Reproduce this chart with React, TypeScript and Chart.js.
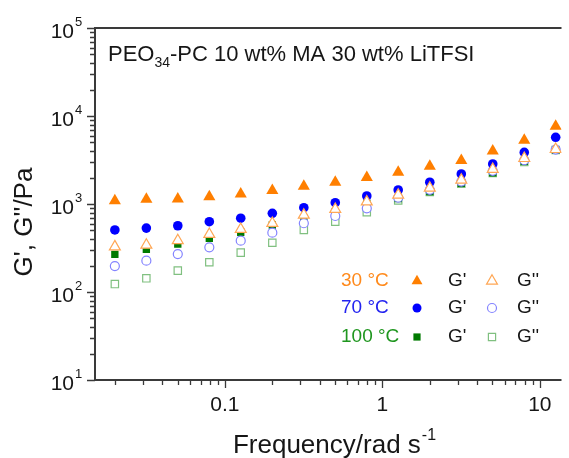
import React, { useEffect, useRef } from "react";
import { Chart, registerables } from "chart.js";

Chart.register(...registerables);

// ---------- data ----------
const frequency = [0.02, 0.0317, 0.0502, 0.0796, 0.126, 0.2, 0.317, 0.502, 0.796, 1.26, 2.0, 3.17, 5.02, 7.96, 12.6];

const g1_30C = [1090, 1130, 1140, 1210, 1300, 1420, 1590, 1770, 2000, 2290, 2680, 3130, 4000, 5300, 7650];
const g2_30C = [327, 342, 385, 453, 516, 604, 750, 871, 1060, 1265, 1520, 1875, 2480, 3300, 4180];
const g1_70C = [507, 532, 566, 629, 690, 784, 908, 1035, 1233, 1442, 1766, 2192, 2848, 3860, 5730];
const g2_70C = [197, 227, 270, 322, 383, 472, 604, 731, 894, 1180, 1450, 1800, 2380, 3150, 4150];
const g1_100C = [268, 306, 351, 408, 477, 577, 688, 817, 1018, 1150, 1380, 1720, 2260, 3050, 4080];
const g2_100C = [123, 143, 175, 218, 280, 363, 507, 629, 805, 1100, 1370, 1700, 2250, 3000, 4100];

const yTickExponents = [1, 2, 3, 4, 5];
const xTickValues = [0.1, 1, 10];
const xTickLabels = ["0.1", "1", "10"];

const legendRows = [
  { label: "30 \u00B0C", color: "#ff8a1c", marker: "triangle" },
  { label: "70 \u00B0C", color: "#2323f0", marker: "circle" },
  { label: "100 \u00B0C", color: "#1f961f", marker: "square" },
];

const titleMain = "PEO";
const titleSub = "34";
const titleRest = "-PC 10 wt% MA 30 wt% LiTFSI";
const xTitle = "Frequency/rad s";
const xTitleSup = "-1";
const yTitle = "G', G''/Pa";

// ---------- styles ----------
const ORANGE = "#ff7f00";
const ORANGE_OPEN = "#ffa755";
const BLUE = "#0000ff";
const BLUE_OPEN = "#8484ff";
const GREEN = "#007a00";
const GREEN_OPEN = "#80c080";
const AXIS = "#3a3a3a";
const TEXT = "#161616";
const FONT = "'Liberation Sans', Arial, sans-serif";

function pts(ys: number[]) {
  return frequency.map((x, i) => ({ x, y: ys[i] }));
}

function drawMarker(ctx: CanvasRenderingContext2D, kind: string, x: number, y: number, filled: boolean, color: string) {
  ctx.save();
  ctx.beginPath();
  if (kind === "triangle") {
    const r = 6.3;
    for (let k = 0; k < 3; k++) {
      const a = (k * 2 * Math.PI) / 3;
      const px = x + Math.sin(a) * r;
      const py = y - Math.cos(a) * r;
      if (k === 0) ctx.moveTo(px, py);
      else ctx.lineTo(px, py);
    }
    ctx.closePath();
  } else if (kind === "circle") {
    ctx.arc(x, y, 4.5, 0, Math.PI * 2);
  } else {
    ctx.rect(x - 3.6, y - 3.6, 7.2, 7.2);
  }
  if (filled) {
    ctx.fillStyle = color;
    ctx.fill();
  } else {
    ctx.fillStyle = "#ffffff";
    ctx.fill();
    ctx.lineWidth = 1.2;
    ctx.strokeStyle = color;
    ctx.stroke();
  }
  ctx.restore();
}

const decorPlugin = {
  id: "decor",
  afterDraw(chart: any) {
    const ctx: CanvasRenderingContext2D = chart.ctx;
    const { left, right, top, bottom } = chart.chartArea;
    const xs = chart.scales.x;
    const ys = chart.scales.y;
    ctx.save();

    // axis lines
    ctx.strokeStyle = AXIS;
    ctx.lineWidth = 2;
    ctx.beginPath();
    ctx.moveTo(left, top);
    ctx.lineTo(left, bottom);
    ctx.moveTo(left - 1, bottom);
    ctx.lineTo(right, bottom);
    ctx.moveTo(left - 1, top);
    ctx.lineTo(right, top);
    ctx.stroke();

    // y ticks
    ctx.lineWidth = 1.3;
    ctx.beginPath();
    for (let d = 1; d <= 5; d++) {
      for (let m = 1; m <= 9; m++) {
        const v = m * Math.pow(10, d);
        if (v > ys.max * 1.0001) continue;
        const py = Math.round(ys.getPixelForValue(v)) + 0.5;
        const len = m === 1 ? 8 : 5;
        ctx.moveTo(left, py);
        ctx.lineTo(left - len, py);
      }
    }
    // x ticks
    for (let d = -2; d <= 1; d++) {
      for (let m = 1; m <= 9; m++) {
        const v = m * Math.pow(10, d);
        if (v < xs.min || v > xs.max) continue;
        const px = Math.round(xs.getPixelForValue(v)) + 0.5;
        const len = m === 1 ? 8 : 5;
        ctx.moveTo(px, bottom);
        ctx.lineTo(px, bottom + len);
      }
    }
    ctx.stroke();

    ctx.fillStyle = TEXT;
    // y tick labels
    yTickExponents.forEach((e) => {
      const py = ys.getPixelForValue(Math.pow(10, e));
      ctx.font = `21px ${FONT}`;
      ctx.textAlign = "right";
      ctx.textBaseline = "alphabetic";
      ctx.fillText("10", 74, py + 10);
      ctx.font = `13px ${FONT}`;
      ctx.textAlign = "left";
      ctx.fillText(String(e), 75, py - 2);
    });

    // x tick labels
    ctx.font = `21px ${FONT}`;
    ctx.textAlign = "center";
    ctx.textBaseline = "alphabetic";
    xTickValues.forEach((v, i) => {
      const px = xs.getPixelForValue(v);
      ctx.fillText(xTickLabels[i], px, 411);
    });

    // x title
    ctx.font = `26px ${FONT}`;
    ctx.textAlign = "left";
    const xtW = ctx.measureText(xTitle).width;
    ctx.font = `16px ${FONT}`;
    const supW = ctx.measureText(xTitleSup).width;
    const xtStart = 334 - (xtW + supW) / 2;
    ctx.font = `26px ${FONT}`;
    ctx.fillText(xTitle, xtStart, 453);
    ctx.font = `16px ${FONT}`;
    ctx.fillText(xTitleSup, xtStart + xtW + 1, 440);

    // y title
    ctx.save();
    ctx.translate(32, 222);
    ctx.rotate(-Math.PI / 2);
    ctx.font = `26px ${FONT}`;
    ctx.textAlign = "center";
    ctx.textBaseline = "alphabetic";
    ctx.fillText(yTitle, 0, 0);
    ctx.restore();

    // chart title
    ctx.textAlign = "left";
    ctx.font = `22px ${FONT}`;
    let tx = 108;
    ctx.fillText(titleMain, tx, 61);
    tx += ctx.measureText(titleMain).width;
    ctx.font = `14px ${FONT}`;
    ctx.fillText(titleSub, tx, 67);
    tx += ctx.measureText(titleSub).width;
    ctx.font = `22px ${FONT}`;
    ctx.fillText(titleRest, tx, 61);

    // legend
    const rowY = [281, 308, 337];
    const filledColors = [ORANGE, BLUE, GREEN];
    const openColors = [ORANGE_OPEN, BLUE_OPEN, GREEN_OPEN];
    legendRows.forEach((row, i) => {
      const y = rowY[i];
      ctx.font = `19px ${FONT}`;
      ctx.textBaseline = "middle";
      ctx.textAlign = "left";
      ctx.fillStyle = row.color;
      ctx.fillText(row.label, 341, y);
      drawMarker(ctx, row.marker, 417, y, true, filledColors[i]);
      ctx.fillStyle = TEXT;
      ctx.font = `19px ${FONT}`;
      ctx.textBaseline = "middle";
      ctx.fillText("G'", 448, y);
      drawMarker(ctx, row.marker, 492, y, false, openColors[i]);
      ctx.fillStyle = TEXT;
      ctx.font = `19px ${FONT}`;
      ctx.textBaseline = "middle";
      ctx.fillText("G''", 517, y);
    });

    ctx.restore();
  },
};

export default function App() {
  const ref = useRef<HTMLCanvasElement | null>(null);

  useEffect(() => {
    if (!ref.current) return;
    const mk = (data: number[], style: string, filled: boolean, color: string, radius: number) => ({
      data: pts(data),
      showLine: false,
      pointStyle: style,
      pointRadius: radius,
      pointHoverRadius: radius,
      pointBackgroundColor: filled ? color : "#ffffff",
      pointBorderColor: color,
      pointBorderWidth: filled ? 0 : 1.2,
    });
    const chart = new Chart(ref.current, {
      type: "scatter",
      data: {
        datasets: [
          mk(g2_30C, "triangle", false, ORANGE_OPEN, 6.3),
          mk(g1_30C, "triangle", true, ORANGE, 7),
          mk(g1_70C, "circle", true, BLUE, 4.8),
          mk(g2_70C, "circle", false, BLUE_OPEN, 4.5),
          mk(g1_100C, "rect", true, GREEN, 5.2),
          mk(g2_100C, "rect", false, GREEN_OPEN, 5.2),
        ] as any,
      },
      options: {
        responsive: false,
        animation: false,
        events: [],
        layout: { padding: { left: 95, right: 0, top: 28, bottom: 78 } },
        plugins: { legend: { display: false }, tooltip: { enabled: false }, title: { display: false } },
        scales: {
          x: { type: "logarithmic", min: 0.01496, max: 13.72, display: false },
          y: { type: "logarithmic", min: 10, max: 100000, display: false },
        },
      },
      plugins: [decorPlugin],
    });
    return () => chart.destroy();
  }, []);

  return (
    <div style={{ position: "absolute", left: 0, top: 0, width: 569, height: 458, background: "#ffffff" }}>
      <canvas ref={ref} width={569} height={458} style={{ display: "block" }} />
    </div>
  );
}
